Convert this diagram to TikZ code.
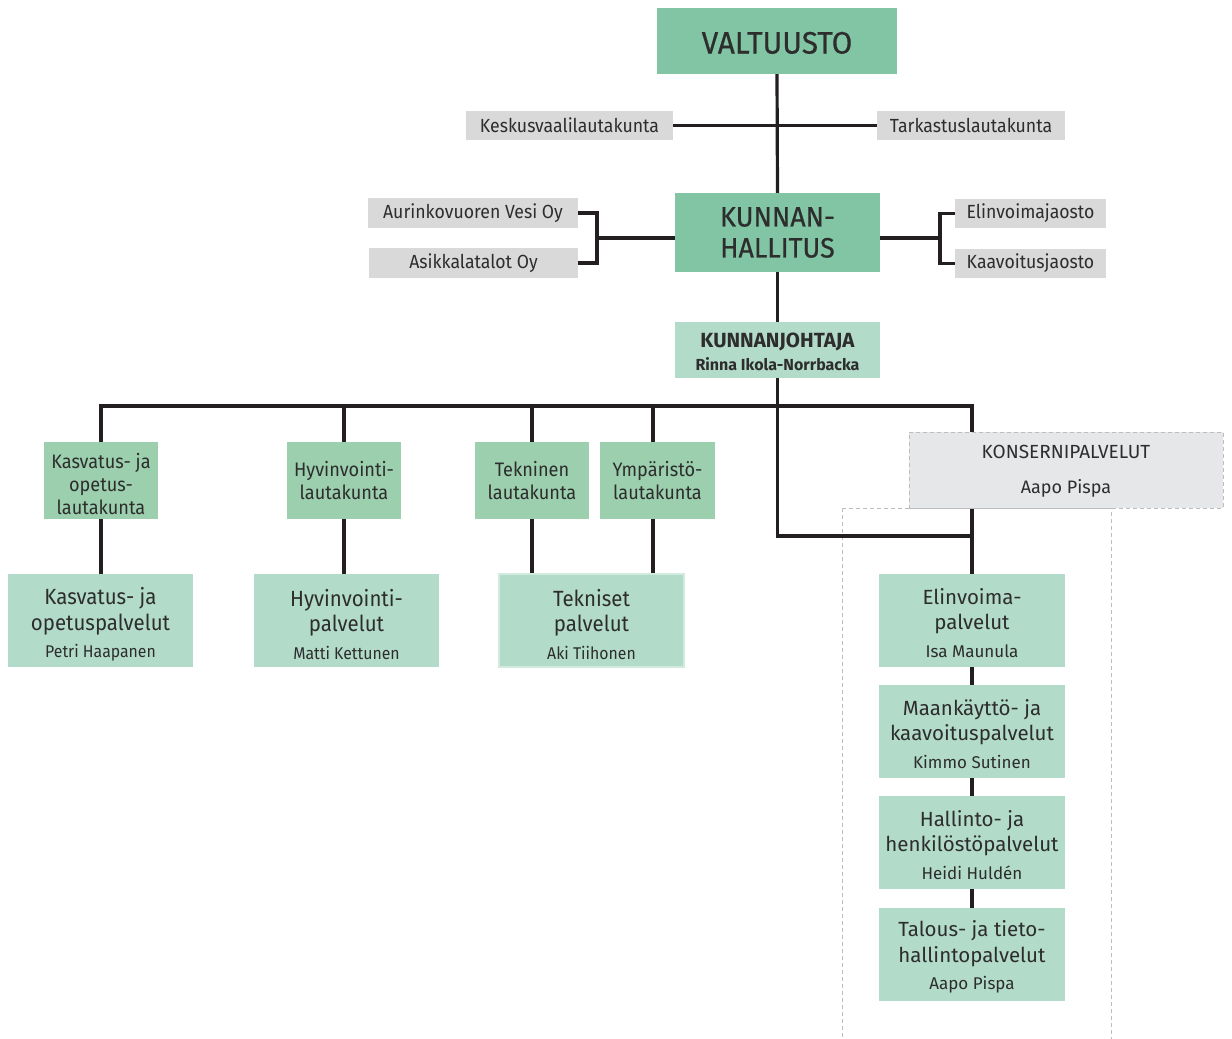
\documentclass[tikz,border=0pt]{standalone}
\usepackage{fontspec}
\setmainfont{Fira Sans}
\newfontfamily\condf[FakeStretch=0.93]{Fira Sans}
\newfontfamily\medf[FakeStretch=0.96,FakeBold=0.6]{Fira Sans}
\newfontfamily\regf{Fira Sans}
\definecolor{medg}{HTML}{82C5A5}
\definecolor{laug}{HTML}{9BCFAE}
\definecolor{lig}{HTML}{B2DBCA}
\definecolor{grayb}{HTML}{D9D9D9}
\definecolor{kons}{HTML}{E6E7E8}
\definecolor{dashc}{HTML}{BDBDBD}
\definecolor{txt}{HTML}{2D2D2D}
\definecolor{lc}{HTML}{231F20}
\definecolor{tekb}{HTML}{D3EAE0}
\tikzset{
  bx/.style={inner sep=0pt, align=center, text=txt},
  mainbox/.style={bx, fill=medg},
  sidebox/.style={bx, fill=grayb, font=\condf\fontsize{19}{22}\selectfont},
  laubox/.style={bx, fill=laug, minimum height=77pt, font=\condf\fontsize{19.5}{23}\selectfont},
  palbox/.style={bx, fill=lig, minimum height=93pt, font=\condf\fontsize{22}{25.5}\selectfont},
  colbox/.style={bx, fill=lig, minimum width=186pt, minimum height=93pt, font=\regf\fontsize{20.5}{25.5}\selectfont},
  conn/.style={draw=lc, line width=3.2pt},
  dashbox/.style={draw=dashc, line width=1pt, dash pattern=on 4pt off 3pt},
}
\newcommand{\pname}[1]{{\fontsize{17}{20}\selectfont #1}}
\newcommand{\up}[1]{\rule{0pt}{#1pt}}
\begin{document}
\begin{tikzpicture}[x=1pt,y=-1pt]
\useasboundingbox (0,0) rectangle (1232,1039);
% dashed group box
\begin{scope}
\clip (0,0) rectangle (1232,1039);
\draw[dashbox] (842,508) rectangle (1111,1060);
\end{scope}
% top
\node[mainbox, minimum width=240pt, minimum height=66pt, font=\medf\fontsize{31}{34}\selectfont] (val) at (777,41) {\up{25.5}VALTUUSTO};
\node[sidebox, minimum width=207pt, minimum height=29pt] (kes) at (569.5,125.5) {\up{15}Keskusvaalilautakunta};
\node[sidebox, minimum width=188pt, minimum height=29pt] (tar) at (971,125.5) {\up{15}Tarkastuslautakunta};
\node[mainbox, minimum width=205pt, minimum height=79pt, font=\medf\fontsize{28}{31}\selectfont] (kh) at (777.5,232.5) {KUNNAN-\\HALLITUS};
\node[sidebox, minimum width=210pt, minimum height=30pt] (aur) at (473,213) {\up{15}Aurinkovuoren Vesi Oy};
\node[sidebox, minimum width=209pt, minimum height=30pt] (asi) at (473.5,263) {\up{15}Asikkalatalot Oy};
\node[sidebox, minimum width=151pt, minimum height=29pt] (elj) at (1030.5,213.5) {\up{15}Elinvoimajaosto};
\node[sidebox, minimum width=151pt, minimum height=29pt] (kaj) at (1030.5,263.5) {\up{15}Kaavoitusjaosto};
\node[bx, fill=lig, minimum width=205pt, minimum height=56pt, font=\regf\bfseries\fontsize{20.5}{24}\selectfont] (kj) at (777.5,350) {\up{18}KUNNANJOHTAJA\\[-1pt]{\fontsize{16}{18}\selectfont Rinna Ikola-Norrbacka}};
% lautakunnat
\node[laubox, minimum width=114pt] (lk1) at (101,480.5) {\up{23}Kasvatus- ja\\opetus-\\lautakunta};
\node[laubox, minimum width=114pt] (lk2) at (344,480.5) {Hyvinvointi-\\lautakunta};
\node[laubox, minimum width=114pt] (lk3) at (532,480.5) {Tekninen\\lautakunta};
\node[laubox, minimum width=115pt] (lk4) at (657.5,480.5) {Ympäristö-\\lautakunta};
% palvelut
\node[palbox, minimum width=185pt] (pv1) at (100.5,620.5) {\up{25}Kasvatus- ja\\opetuspalvelut\\[2pt]\pname{Petri Haapanen}};
\node[palbox, minimum width=185pt] (pv2) at (346.5,620.5) {\up{25}Hyvinvointi-\\palvelut\\[2pt]\pname{Matti Kettunen}};
\node[palbox, minimum width=185pt, draw=tekb, line width=2pt] (pv3) at (591.5,620.5) {\up{25}Tekniset\\palvelut\\[2pt]\pname{Aki Tiihonen}};
% konserni
\node[bx, fill=kons, dashbox, minimum width=314pt, minimum height=76pt, font=\regf\fontsize{19}{35}\selectfont] (kon) at (1066,470) {\up{15}KONSERNIPALVELUT\\{\fontsize{18}{20}\selectfont Aapo Pispa}};
\node[colbox] (r1) at (972,620.5) {\up{21}Elinvoima-\\palvelut\\[2pt]\pname{Isa Maunula}};
\node[colbox] (r2) at (972,731.5) {\up{21}Maankäyttö- ja\\kaavoituspalvelut\\[2pt]\pname{Kimmo Sutinen}};
\node[colbox] (r3) at (972,842.5) {\up{21}Hallinto- ja\\henkilöstöpalvelut\\[2pt]\pname{Heidi Huldén}};
\node[colbox] (r4) at (972,954.5) {\up{21}Talous- ja tieto-\\hallintopalvelut\\[2pt]\pname{Aapo Pispa}};
% connectors
\coordinate (bus) at (777,406);
\coordinate (lb) at (597,238);
\coordinate (rb) at (940,238);
\coordinate (jn) at (972,536);
\draw[conn] (val.south) -- (kh.north);
\draw[conn] (kes.east) -- (tar.west);
\draw[conn] (aur.east) -| (lb) |- (asi.east);
\draw[conn] (kh.west |- lb) -- (lb);
\draw[conn] (elj.west) -| (rb) |- (kaj.west);
\draw[conn] (kh.east |- rb) -- (rb);
\draw[conn] (kh.south) -- (kj.south |- kh.south) -- (kj.north);
\draw[conn] (kj.south) |- (jn);
\draw[conn] (lk1.north) |- (bus -| r1) -- (r1 |- kon.north);
\draw[conn] (lk2.north) -- (lk2.north |- bus);
\draw[conn] (lk3.north) -- (lk3.north |- bus);
\draw[conn] ([xshift=-4.5pt]lk4.north) -- ([xshift=-4.5pt]lk4.north |- bus);
\draw[conn] (lk1.south) -- (lk1.south |- pv1.north);
\draw[conn] (lk2.south) -- (lk2.south |- pv2.north);
\draw[conn] (lk3.south) -- (lk3.south |- pv3.north);
\draw[conn] ([xshift=-4.5pt]lk4.south) -- ([xshift=-4.5pt]lk4.south |- pv3.north);
\draw[conn] (r1 |- kon.south) -- (r1.north);
\draw[conn] (r1.south) -- (r2.north);
\draw[conn] (r2.south) -- (r3.north);
\draw[conn] (r3.south) -- (r4.north);
\end{tikzpicture}
\end{document}
